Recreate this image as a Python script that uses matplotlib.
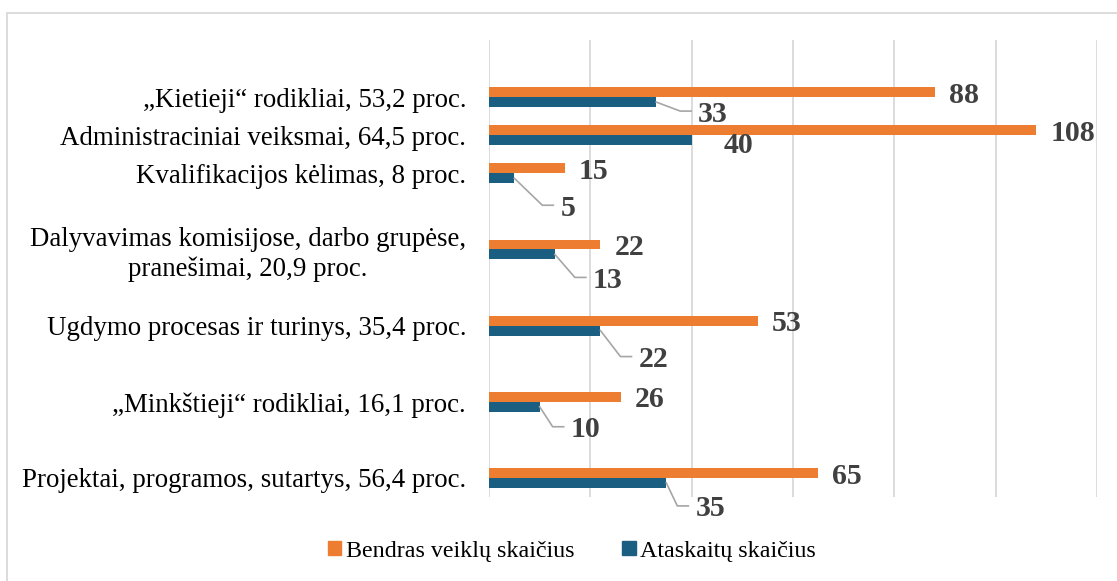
import numpy as np
import matplotlib
matplotlib.use("Agg")
import matplotlib.pyplot as plt
from matplotlib.patches import Patch, Rectangle

# categories from top to bottom; empty strings are the blank rows of the original chart
categories = [
    "",
    "„Kietieji“ rodikliai, 53,2 proc.",
    "Administraciniai veiksmai, 64,5 proc.",
    "Kvalifikacijos kėlimas, 8 proc.",
    "",
    "Dalyvavimas komisijose, darbo grupėse,\npranešimai, 20,9 proc.",
    "",
    "Ugdymo procesas ir turinys, 35,4 proc.",
    "",
    "„Minkštieji“ rodikliai, 16,1 proc.",
    "",
    "Projektai, programos, sutartys, 56,4 proc.",
]
total_activities = [np.nan, 88, 108, 15, np.nan, 22, np.nan, 53, np.nan, 26, np.nan, 65]
reports = [np.nan, 33, 40, 5, np.nan, 13, np.nan, 22, np.nan, 10, np.nan, 35]
series_names = ["Bendras veiklų skaičius", "Ataskaitų skaičius"]
x_ticks = [0, 20, 40, 60, 80, 100, 120]

# leader elbow offsets (pixels) for the report labels, per category
elbow = [None, (24, 9), (14, 2), (28, 27), None, (20, 23), None, (20, 26),
         None, (13, 20), None, (11, 23)]

ORANGE = "#ED7D31"
BLUE = "#1A5F82"
GRAY = "#A6A6A6"
LABEL = "#404040"
serif = ["Liberation Serif", "DejaVu Serif"]

W, H, DPI = 1117, 581, 100
fig = plt.figure(figsize=(W / DPI, H / DPI), dpi=DPI)
ax = fig.add_axes([489 / W, 1 - 497 / H, (1097 - 489) / W, (497 - 40) / H])

y = np.arange(len(categories))
bh = 0.26
ax.barh(y - bh / 2, total_activities, height=bh, color=ORANGE, zorder=3)
ax.barh(y + bh / 2, reports, height=bh, color=BLUE, zorder=3)

ax.set_xlim(x_ticks[0], x_ticks[-1])
ax.set_ylim(len(categories) - 0.5, -0.5)
ax.set_xticks(x_ticks)
ax.set_xticklabels([])
ax.tick_params(axis="both", length=0)
ax.grid(axis="x", color="#D9D9D9", linewidth=1.3, zorder=0)
for s in ax.spines.values():
    s.set_visible(False)

ax.set_yticks(y)
ax.set_yticklabels(categories, fontsize=19.4, family=serif, multialignment="center")
ax.tick_params(axis="y", pad=16.5)

to_px = ax.transData.transform
to_data = ax.transData.inverted().transform
fig.canvas.draw()

for i, v in enumerate(total_activities):
    if np.isnan(v):
        continue
    px, py = to_px((v, y[i] - bh / 2))
    tx, ty = to_data((px + 14, py - 3))
    ax.text(tx, ty, f"{v:g}", fontsize=21.5, fontweight="bold", family=serif,
            color=LABEL, va="center", ha="left")

for i, v in enumerate(reports):
    if np.isnan(v):
        continue
    px, py = to_px((v, y[i] + bh / 2))
    dx, dy = elbow[i]
    if dy > 5:
        pts = to_data([(px, py), (px + dx, py - dy), (px + dx + 11, py - dy)])
        ax.plot(pts[:, 0], pts[:, 1], color=GRAY, linewidth=1.2, zorder=4,
                clip_on=False)
    tx, ty = to_data((px + dx + 18, py - dy - 3))
    ax.text(tx, ty, f"{v:g}", fontsize=21.5, fontweight="bold", family=serif,
            color=LABEL, va="center", ha="left")

handles = [Patch(color=ORANGE), Patch(color=BLUE)]
fig.legend(handles, series_names, loc="center", bbox_to_anchor=(572 / W, 1 - 551 / H),
           ncol=2, frameon=False, prop={"family": serif, "size": 17.3},
           handlelength=0.55, handleheight=0.55, handletextpad=0.2, columnspacing=2.0)

fig.patches.append(Rectangle((7 / W, -0.1), 1.2, 1 - 13 / H + 0.1, transform=fig.transFigure,
                             fill=False, edgecolor="#D9D9D9", linewidth=1.3))

fig.savefig("out.png", dpi=DPI)
